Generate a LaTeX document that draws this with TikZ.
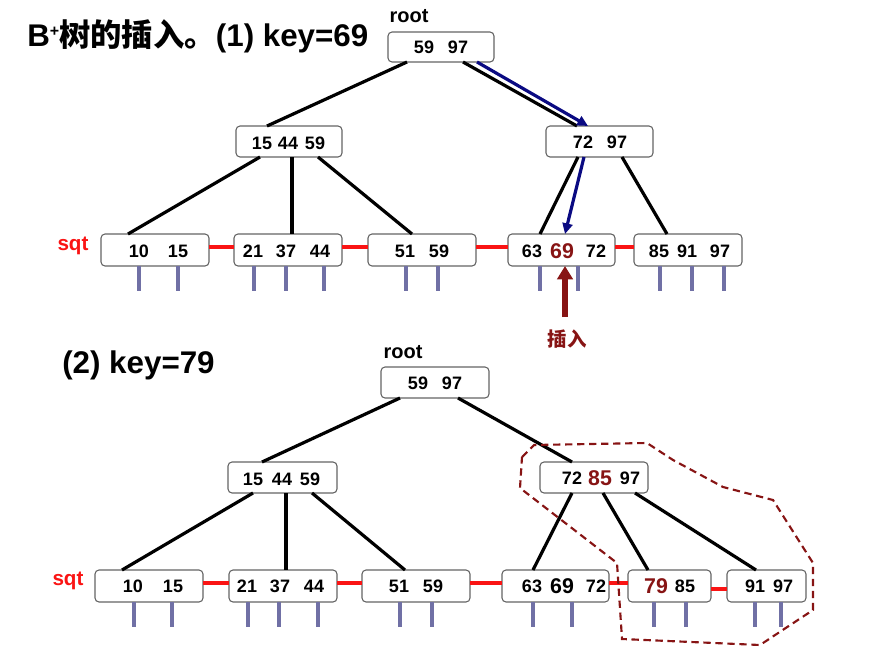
\documentclass[tikz,border=0pt]{standalone}
\usepackage{fontspec}
\setmainfont{Liberation Sans}
\newfontfamily\cjk{Noto Sans CJK SC}
\usetikzlibrary{fit,calc,arrows.meta}
\definecolor{boxgray}{RGB}{100,100,100}
\definecolor{navyblue}{RGB}{10,10,130}
\definecolor{dred}{RGB}{135,20,20}
\definecolor{ptrcol}{RGB}{112,112,165}
\definecolor{seqred}{RGB}{250,20,20}
\tikzset{
 box/.style={draw=boxgray, fill=white, rounded corners=3pt, line width=0.8pt, inner sep=0pt, outer sep=0pt},
 num/.style={font=\bfseries\fontsize{13.5}{15}\selectfont, inner sep=0pt},
 bignum/.style={font=\bfseries\fontsize{16}{18}\selectfont, inner sep=0pt},
 hinum/.style={bignum, text=dred},
 treeedge/.style={line width=2.4pt, black},
 ptr/.style={line width=2.3pt, ptrcol},
 seq/.style={line width=2.6pt, seqred},
 bluearrow/.style={line width=2.4pt, navyblue, -{Triangle[length=8pt,width=7.5pt]}},
 insarrow/.style={line width=4.8pt, dred, -{Triangle[length=10pt,width=11.5pt]}},
 lbl/.style={font=\bfseries\fontsize{15}{17}\selectfont, inner sep=0pt},
 sqtlbl/.style={font=\bfseries\fontsize{15.5}{17}\selectfont, text=seqred, inner sep=0pt},
 titlefont/.style={font=\bfseries\fontsize{23.5}{26}\selectfont, inner sep=0pt},
 region/.style={draw=dred, line width=1.6pt, dash pattern=on 5.5pt off 3.5pt},
}
\begin{document}
\begin{tikzpicture}[x=0.75pt,y=-0.75pt]
\useasboundingbox (0,0) rectangle (888,660);

% ---------------- Tree (1) ----------------
\node[titlefont, anchor=base west] (title1) at (27,47)
  {B\raisebox{7.5pt}{\fontsize{12}{12}\selectfont +}{\cjk\bfseries 树的插入。}(1) key=69};
\node[lbl] (rootlbl1) at (409,16) {root};
\node[sqtlbl] (sqt1) at (73,246) {sqt};

\node[box, fit={(388,32) (494,62)}] (root1) {};
\node[box, fit={(236,126) (342,157)}] (t1a) {};
\node[box, fit={(546,126) (653,157)}] (t1b) {};
\node[box, fit={(101,234) (209,266)}] (t1l1) {};
\node[box, fit={(234,234) (342,266)}] (t1l2) {};
\node[box, fit={(368,234) (476,266)}] (t1l3) {};
\node[box, fit={(508,234) (615,266)}] (t1l4) {};
\node[box, fit={(634,234) (742,266)}] (t1l5) {};

% tree edges
\draw[treeedge] ($(root1.south west)+(19,0)$) -- ($(t1a.north west)+(31,0)$);
\draw[treeedge] ($(root1.south west)+(75,0)$) -- ($(t1b.north west)+(31,0)$);
\draw[treeedge] ($(t1a.south west)+(24,0)$) -- ($(t1l1.north west)+(27,0)$);
\draw[treeedge] ($(t1a.south west)+(56,0)$) -- ($(t1l2.north west)+(58,0)$);
\draw[treeedge] ($(t1a.south west)+(82,0)$) -- ($(t1l3.north west)+(44,0)$);
\draw[treeedge] ($(t1b.south west)+(32,0)$) -- ($(t1l4.north west)+(32,0)$);
\draw[treeedge] ($(t1b.south west)+(76,0)$) -- ($(t1l5.north west)+(33,0)$);
% search path
\draw[bluearrow] ($(root1.south west)+(89,0)$) -- ($(t1b.north west)+(42,0)$);
\draw[bluearrow] ($(t1b.south west)+(38,0)$) -- ($(t1l4.north west)+(57,0)$);

% sequence links
\draw[seq] ($(t1l1.east)+(0,-3)$) -- ($(t1l2.west)+(0,-3)$);
\draw[seq] ($(t1l2.east)+(0,-3)$) -- ($(t1l3.west)+(0,-3)$);
\draw[seq] ($(t1l3.east)+(0,-3)$) -- ($(t1l4.west)+(0,-3)$);
\draw[seq] ($(t1l4.east)+(0,-3)$) -- ($(t1l5.west)+(0,-3)$);

% numbers
\foreach \x/\t [count=\i] in {424/59,458/97} \node[num] (r1n\i) at (\x,47) {\t};
\foreach \x/\t [count=\i] in {262/15,288/44,315/59} \node[num] (t1an\i) at (\x,143) {\t};
\foreach \x/\t [count=\i] in {583/72,617/97} \node[num] (t1bn\i) at (\x,142) {\t};
\foreach \x/\t [count=\i] in {139/10,178/15} \node[num] (t1l1n\i) at (\x,251.5) {\t};
\foreach \x/\t [count=\i] in {253/21,286/37,320/44} \node[num] (t1l2n\i) at (\x,251.5) {\t};
\foreach \x/\t [count=\i] in {405/51,439/59} \node[num] (t1l3n\i) at (\x,251.5) {\t};
\node[num] (t1l4n1) at (532,251.5) {63};
\node[hinum] (t1l4n2) at (562,251.5) {69};
\node[num] (t1l4n3) at (596,251.5) {72};
\foreach \x/\t [count=\i] in {659/85,687/91,720/97} \node[num] (t1l5n\i) at (\x,251.5) {\t};

% record pointers
\foreach \x in {139,178} \draw[ptr] (\x,0 |- t1l1.south) -- ++(0,25);
\foreach \x in {254,286,324} \draw[ptr] (\x,0 |- t1l2.south) -- ++(0,25);
\foreach \x in {406,438} \draw[ptr] (\x,0 |- t1l3.south) -- ++(0,25);
\foreach \x in {540,578} \draw[ptr] (\x,0 |- t1l4.south) -- ++(0,25);
\foreach \x in {660,692,724} \draw[ptr] (\x,0 |- t1l5.south) -- ++(0,25);

% insertion arrow
\node[font=\cjk\bfseries\fontsize{14.6}{16}\selectfont, text=dred, inner sep=0pt] (inslbl) at (567,339) {插入};
\coordinate (insfoot) at (565,317);
\draw[insarrow] (insfoot) -- ($(t1l4.south west)+(57,0)$);

% ---------------- Tree (2) ----------------
\node[titlefont, anchor=base west] (title2) at (62,373) {(2) key=79};
\node[lbl] (rootlbl2) at (403,352) {root};
\node[sqtlbl] (sqt2) at (68,581) {sqt};

\node[box, fit={(381,367) (489,398)}] (root2) {};
\node[box, fit={(228,462) (337,493)}] (t2a) {};
\node[box, fit={(540,462) (648,493)}] (t2b) {};
\node[box, fit={(95,570) (203,602)}] (t2l1) {};
\node[box, fit={(229,570) (337,602)}] (t2l2) {};
\node[box, fit={(362,570) (470,602)}] (t2l3) {};
\node[box, fit={(502,570) (609,602)}] (t2l4) {};
\node[box, fit={(628,570) (711,602)}] (t2l5) {};
\node[box, fit={(727,570) (806,602)}] (t2l6) {};

\draw[treeedge] ($(root2.south west)+(19,0)$) -- ($(t2a.north west)+(34,0)$);
\draw[treeedge] ($(root2.south west)+(77,0)$) -- ($(t2b.north west)+(32,0)$);
\draw[treeedge] ($(t2a.south west)+(25,0)$) -- ($(t2l1.north west)+(27,0)$);
\draw[treeedge] ($(t2a.south west)+(58,0)$) -- ($(t2l2.north west)+(57,0)$);
\draw[treeedge] ($(t2a.south west)+(84,0)$) -- ($(t2l3.north west)+(43,0)$);
\draw[treeedge] ($(t2b.south west)+(32,0)$) -- ($(t2l4.north west)+(31,0)$);
\draw[treeedge] ($(t2b.south west)+(63,0)$) -- ($(t2l5.north west)+(20,0)$);
\draw[treeedge] ($(t2b.south west)+(95,0)$) -- ($(t2l6.north west)+(29,0)$);

\draw[seq] ($(t2l1.east)+(0,-3)$) -- ($(t2l2.west)+(0,-3)$);
\draw[seq] ($(t2l2.east)+(0,-3)$) -- ($(t2l3.west)+(0,-3)$);
\draw[seq] ($(t2l3.east)+(0,-3)$) -- ($(t2l4.west)+(0,-3)$);
\draw[seq] ($(t2l4.east)+(0,-3)$) -- ($(t2l5.west)+(0,-3)$);
\draw[seq] ($(t2l5.east)+(0,3)$) -- ($(t2l6.west)+(0,3)$);

\foreach \x/\t [count=\i] in {418/59,452/97} \node[num] (r2n\i) at (\x,383) {\t};
\foreach \x/\t [count=\i] in {253/15,282/44,310/59} \node[num] (t2an\i) at (\x,479) {\t};
\node[num] (t2bn1) at (572,478) {72};
\node[hinum] (t2bn2) at (600,478) {85};
\node[num] (t2bn3) at (630,478) {97};
\foreach \x/\t [count=\i] in {133/10,173/15} \node[num] (t2l1n\i) at (\x,586.5) {\t};
\foreach \x/\t [count=\i] in {247/21,280/37,314/44} \node[num] (t2l2n\i) at (\x,586.5) {\t};
\foreach \x/\t [count=\i] in {399/51,433/59} \node[num] (t2l3n\i) at (\x,586.5) {\t};
\node[num] (t2l4n1) at (532,586.5) {63};
\node[bignum] (t2l4n2) at (562,586.5) {69};
\node[num] (t2l4n3) at (596,586.5) {72};
\node[hinum] (t2l5n1) at (656,586.5) {79};
\node[num] (t2l5n2) at (685,586.5) {85};
\foreach \x/\t [count=\i] in {755/91,783/97} \node[num] (t2l6n\i) at (\x,586.5) {\t};

\foreach \x in {134,172} \draw[ptr] (\x,0 |- t2l1.south) -- ++(0,25);
\foreach \x in {248,279,318} \draw[ptr] (\x,0 |- t2l2.south) -- ++(0,25);
\foreach \x in {400,432} \draw[ptr] (\x,0 |- t2l3.south) -- ++(0,25);
\foreach \x in {533,572} \draw[ptr] (\x,0 |- t2l4.south) -- ++(0,25);
\foreach \x in {654,686} \draw[ptr] (\x,0 |- t2l5.south) -- ++(0,25);
\foreach \x in {755,781} \draw[ptr] (\x,0 |- t2l6.south) -- ++(0,25);

% split region
\draw[region] (522,457) -- (534,445) -- (647,443) -- (673,460) -- (723,487)
  -- (773,500) -- (813,563) -- (813,610) -- (760,645) -- (622,639)
  -- (617,563) -- (520,488) -- cycle;
\end{tikzpicture}
\end{document}
